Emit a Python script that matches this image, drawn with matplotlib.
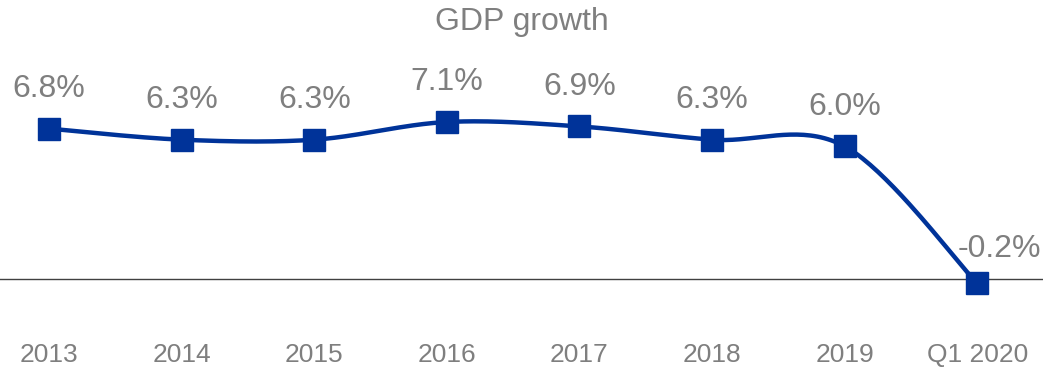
import numpy as np
import matplotlib.pyplot as plt

plt.rcParams['font.family'] = ['Liberation Sans', 'DejaVu Sans']

# GDP growth, annual and first quarter 2020
periods = ['2013', '2014', '2015', '2016', '2017', '2018', '2019', 'Q1 2020']
growth = [6.8, 6.3, 6.3, 7.1, 6.9, 6.3, 6.0, -0.2]

blue = '#003399'
grey = '#7f7f7f'


def smooth(xs, ys, n=40):
    # Catmull-Rom style bezier smoothing through every point
    xs = np.asarray(xs, float)
    ys = np.asarray(ys, float)
    px = np.concatenate([[xs[0]], xs, [xs[-1]]])
    py = np.concatenate([[ys[0]], ys, [ys[-1]]])
    outx, outy = [], []
    t = np.linspace(0, 1, n)
    for i in range(1, len(px) - 2):
        p0 = np.array([px[i], py[i]])
        p3 = np.array([px[i + 1], py[i + 1]])
        c1 = p0 + (np.array([px[i + 1], py[i + 1]]) - np.array([px[i - 1], py[i - 1]])) / 6
        c2 = p3 - (np.array([px[i + 2], py[i + 2]]) - np.array([px[i], py[i]])) / 6
        b = ((1 - t) ** 3)[:, None] * p0 + (3 * (1 - t) ** 2 * t)[:, None] * c1 \
            + (3 * (1 - t) * t ** 2)[:, None] * c2 + (t ** 3)[:, None] * p3
        outx.extend(b[:, 0])
        outy.extend(b[:, 1])
    return outx, outy


fig = plt.figure(figsize=(10.43, 3.68), dpi=100)
ax = fig.add_axes([0, 0, 1, 1])

x = np.arange(len(periods))
sx, sy = smooth(x, growth)

ax.axhline(0, color='#404040', lw=1.0, zorder=1)
ax.plot(sx, sy, color=blue, lw=3.2, solid_capstyle='round', zorder=2)
ax.plot(x, growth, 's', color=blue, ms=16, zorder=3)

for i, v in enumerate(growth):
    dx = 0.17 if i == len(growth) - 1 else 0
    dy = 1.55 if i == len(growth) - 1 else 1.8
    ax.text(i + dx, v + dy, f'{v:.1f}%', ha='center', va='center',
            fontsize=23, color=grey)
    ax.text(i, -3.44, periods[i], ha='center', va='center',
            fontsize=19, color=grey)

ax.text(0.5, 1 - 22 / 368, 'GDP growth', transform=ax.transAxes,
        ha='center', va='center', fontsize=23, color=grey)

ax.set_xlim(-0.37, 7.496)
ax.set_ylim(-4.03, 12.62)
ax.axis('off')

fig.savefig('out.png', dpi=100)
